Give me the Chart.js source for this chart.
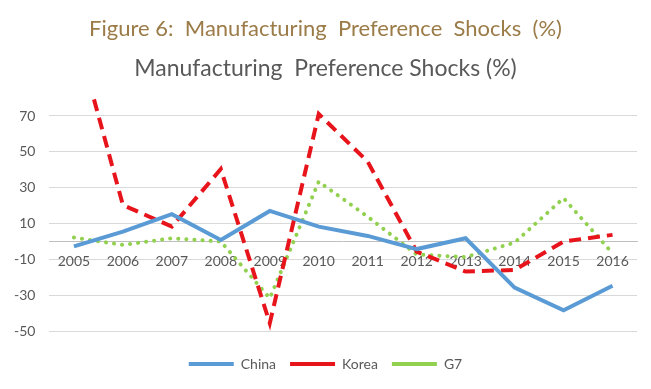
<!DOCTYPE html>
<html>
<head>
<meta charset="utf-8">
<script src="https://cdn.jsdelivr.net/npm/chart.js@4/dist/chart.umd.min.js"></script>
<style>
  html, body { margin: 0; padding: 0; background: #fff; }
  #wrap { width: 651px; height: 389px; }
</style>
</head>
<body>
<div id="wrap"><canvas id="shockChart"></canvas></div>
<script>
/* ========= 1.  DATA  ================================================ */
const years      = ['2005','2006','2007','2008','2009','2010','2011','2012','2013','2014','2015','2016'];
const chinaVals  = [-2.5, 5.7, 15.4, 1.1, 17.2, 8.5, 3.3, -4.0, 2.0, -25.4, -38.1, -24.4];
const koreaVals  = [120, 20.5, 8.5, 40.5, -45.2, 71.1, 44.6, -5.4, -16.5, -15.6, 0.2, 3.9];
const g7Vals     = [2.4, -1.7, 2.0, 0.2, -31.3, 33.5, 14.0, -7.0, -8.5, -0.4, 24.3, -6.3];
const yTicks     = [-50, -30, -10, 10, 30, 50, 70];

/* ========= 2.  STYLE  =============================================== */
const GREY_TXT = '#595959';
const FONT     = 'Lato, "Open Sans", sans-serif';

/* ========= 3.  CHART  =============================================== */
new Chart(document.getElementById('shockChart'), {
  type: 'line',
  data: {
    labels: years,
    datasets: [
      { label: 'China', data: chinaVals, borderColor: '#5B9BD5', backgroundColor: '#5B9BD5',
        borderWidth: 4, borderCapStyle: 'butt' },
      { label: 'Korea', data: koreaVals, borderColor: '#E8141B', backgroundColor: '#E8141B',
        borderWidth: 4, borderDash: [12, 7], borderCapStyle: 'butt' },
      { label: 'G7', data: g7Vals, borderColor: '#92D050', backgroundColor: '#92D050',
        borderWidth: 4, borderDash: [0.1, 8], borderCapStyle: 'round' }
    ]
  },
  options: {
    responsive: true,
    maintainAspectRatio: false,
    animation: false,
    layout: { padding: { left: 0, right: 0, bottom: 8 } },
    elements: { point: { radius: 0, hoverRadius: 0 }, line: { tension: 0 } },
    scales: {
      x: {
        position: { y: 0 },
        offset: true,
        grid: { display: false, drawTicks: false },
        border: { display: true, color: '#BFBFBF', width: 1 },
        ticks: { color: GREY_TXT, font: { family: FONT, size: 14 }, padding: 11, maxRotation: 0 }
      },
      y: {
        min: -50,
        max: 80,
        afterBuildTicks: axis => { axis.ticks = yTicks.map(v => ({ value: v })); },
        grid: { color: '#D9D9D9', drawTicks: false },
        border: { display: false },
        ticks: { color: GREY_TXT, font: { family: FONT, size: 14 }, padding: 14 }
      },
      /* empty right strip so the titles stay centred on the whole page */
      yPad: {
        position: 'right',
        grid: { display: false, drawTicks: false },
        border: { display: false },
        ticks: { display: false },
        afterFit: s => { s.width = 14; }
      }
    },
    plugins: {
      title: {
        display: true,
        text: 'Figure 6:  Manufacturing  Preference  Shocks  (%)',
        color: '#9B7B47',
        font: { family: FONT, size: 22, weight: 'normal' },
        padding: { top: 16, bottom: 12 }
      },
      subtitle: {
        display: true,
        text: 'Manufacturing  Preference Shocks (%)',
        color: GREY_TXT,
        font: { family: FONT, size: 23, weight: 'normal' },
        padding: { bottom: 16 }
      },
      legend: {
        position: 'bottom',
        title: { display: true, text: '', font: { size: 1 }, padding: { top: 10, bottom: 0 } },
        labels: {
          usePointStyle: true,
          pointStyle: 'line',
          pointStyleWidth: 45,
          boxWidth: 45,
          color: GREY_TXT,
          font: { family: FONT, size: 14 },
          padding: 14
        }
      },
      tooltip: { enabled: false }
    }
  }
});
</script>
</body>
</html>
